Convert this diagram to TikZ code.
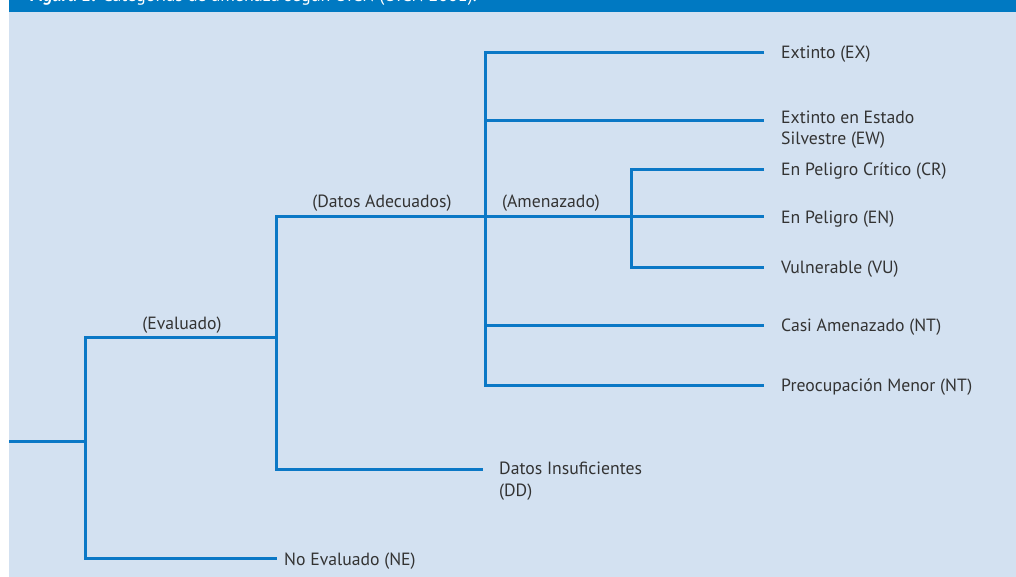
\documentclass[tikz,border=0pt]{standalone}
\usepackage{fontspec}
\setmainfont{PT Sans}
\definecolor{panel color}{HTML}{D3E1F1}
\definecolor{title bar color}{HTML}{0079C2}
\definecolor{branch color}{HTML}{0B78C6}
\definecolor{category text color}{HTML}{333333}
\tikzset{
    x={1pt},
    y={-1pt},
    panel/.style={
        fill=panel color,
    },
    title bar/.style={
        fill=title bar color,
    },
    title text/.style={
        anchor=base west,
        inner sep=0pt,
        text=white,
        font={\fontsize{18}{22}\selectfont},
    },
    branch/.style={
        draw=branch color,
        line width={3pt},
        line join=miter,
    },
    category label/.style={
        anchor=base west,
        inner sep=0pt,
        align=left,
        text=category text color,
        font={\fontsize{17.7}{21.5}\selectfont},
    },
    branch label/.style={
        category label,
        anchor=base,
    },
}

\begin{document}
\begin{tikzpicture}
\useasboundingbox (0,0) rectangle (1016,577);
% background
\fill[white] (0,0) rectangle (1016,577);
\path[panel] (9,12) rectangle (1016,577);
\path[title bar] (9,0) rectangle (1016,12);
\begin{scope}
\clip (0,0) rectangle (1016,577);
\node[title text] (title) at (30,2) {\textbf{\textit{Figura 1.}} Categorías de amenaza según UICN (UICN 2001).};
\end{scope}
% junctions and branch ends
\coordinate (root) at (9,441);
\coordinate (ev) at (85,441);
\coordinate (ad) at (276,337);
\coordinate (th) at (485,217);
\coordinate (am) at (631,217);
\coordinate (ex end) at (764,53);
\coordinate (ew end) at (764,121);
\coordinate (cr end) at (764,170);
\coordinate (en end) at (764,217);
\coordinate (vu end) at (764,267);
\coordinate (nt end) at (764,325);
\coordinate (lc end) at (764,385);
\coordinate (dd end) at (483,469);
\coordinate (ne end) at (277,558);
% branches
\path[branch] (root) -- (ev);
\path[branch] (ad) -| (ev) |- (ne end);
\path[branch] (th) -| (ad) |- (dd end);
\path[branch] (ex end) -| (th) |- (lc end);
\path[branch] (th |- ew end) -- (ew end);
\path[branch] (th |- nt end) -- (nt end);
\path[branch] (th) -- (am);
\path[branch] (cr end) -| (am) |- (vu end);
\path[branch] (am) -- (en end);
% branch labels
\node[branch label] (evaluado) at (182,329) {(Evaluado)};
\node[branch label] (adecuados) at (382,208) {(Datos Adecuados)};
\node[branch label] (amenazado) at (551,208) {(Amenazado)};
% categories
\node[category label] (ex) at (781,59) {Extinto (EX)};
\node[category label] (ew) at (781,145) {Extinto en Estado\\Silvestre (EW)};
\node[category label] (cr) at (781,176) {En Peligro Crítico (CR)};
\node[category label] (en) at (781,223) {En Peligro (EN)};
\node[category label] (vu) at (781,273) {Vulnerable (VU)};
\node[category label] (nt) at (781,331) {Casi Amenazado (NT)};
\node[category label] (lc) at (781,391) {Preocupación Menor (NT)};
\node[category label] (dd) at (499,496) {Datos Insuficientes\\(DD)};
\node[category label] (ne) at (284,565) {No Evaluado (NE)};
\end{tikzpicture}
\end{document}
